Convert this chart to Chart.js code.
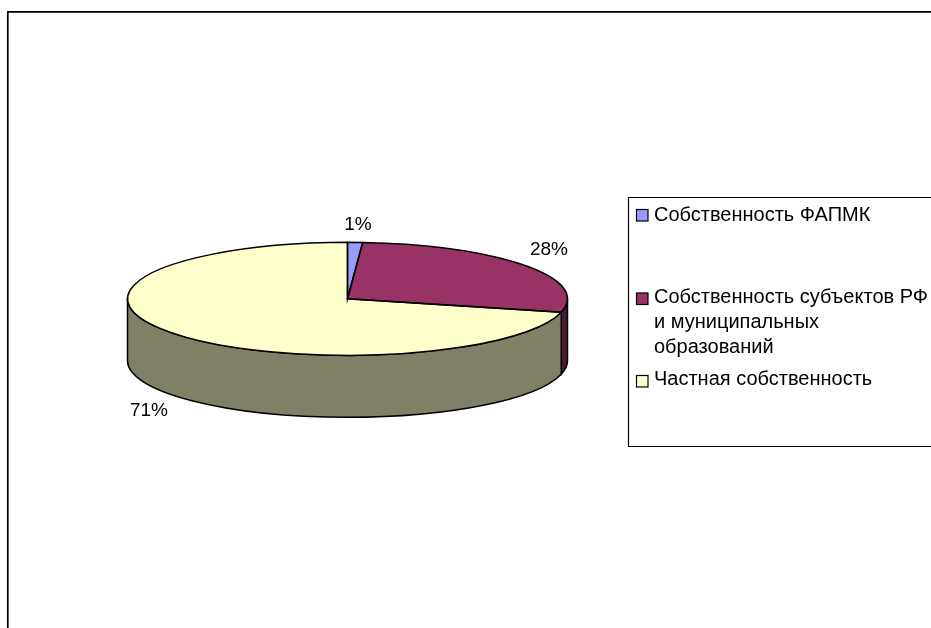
<!DOCTYPE html>
<html lang="ru">
<head>
<meta charset="utf-8">
<title>Собственность</title>
<script src="https://cdn.jsdelivr.net/npm/chart.js@4"></script>
<style>
  html, body { margin: 0; padding: 0; background: #fff; overflow: hidden; }
  canvas { display: block; }
</style>
</head>
<body>
<canvas id="pie3d" width="931" height="628"></canvas>
<script>
// data
const categories = ['Собственность ФАПМК', 'Собственность субъектов РФ', 'Частная собственность'];
const shares = [1.1, 27.7, 71.2];
const legendLines = [
  ['Собственность ФАПМК'],
  ['Собственность субъектов РФ', 'и муниципальных', 'образований'],
  ['Частная собственность'],
];

const topColors = ['#9999ff', '#993366', '#ffffcc'];
const sideColors = ['#4d4d80', '#4d1a33', '#808066'];

const LABEL_FONT = '19px "Liberation Sans", Arial, sans-serif';
const LEGEND_FONT = '20px "Liberation Sans", Arial, sans-serif';
const SQUASH = 56.5 / 220; // top of the pie is an ellipse
const DEPTH = 62;
const EDGE = 1.5;

// label spots, one per slice
const labelSpots = [[358, 224.5], [549, 250], [149, 410.5]];
// legend rows: swatch top and first text baseline
const legendRows = [[209.5, 221], [293, 303], [375.5, 385]];

function wedgePath(ctx, arc) {
  ctx.beginPath();
  ctx.moveTo(arc.x, arc.y);
  ctx.ellipse(arc.x, arc.y, arc.outerRadius, arc.outerRadius * SQUASH, 0, arc.startAngle, arc.endAngle);
  ctx.closePath();
}

// rim of the pie, only the front half can be seen
function drawSides(ctx, arcs) {
  arcs.forEach((arc, i) => {
    const from = Math.max(arc.startAngle, 0);
    const to = Math.min(arc.endAngle, Math.PI);
    if (to <= from) return;
    const rx = arc.outerRadius;
    const ry = rx * SQUASH;
    ctx.beginPath();
    ctx.ellipse(arc.x, arc.y, rx, ry, 0, from, to);
    ctx.ellipse(arc.x, arc.y + DEPTH, rx, ry, 0, to, from, true);
    ctx.closePath();
    ctx.fillStyle = sideColors[i];
    ctx.fill();
    ctx.lineWidth = EDGE;
    ctx.strokeStyle = '#000';
    ctx.stroke();
  });
}

const pie3d = {
  id: 'pie3d',
  beforeDatasetsDraw(chart) {
    const ctx = chart.ctx;
    const arcs = chart.getDatasetMeta(0).data;
    drawSides(ctx, arcs);
    // the library draws the slices, flattened
    ctx.save();
    ctx.translate(arcs[0].x, arcs[0].y);
    ctx.scale(1, SQUASH);
    ctx.translate(-arcs[0].x, -arcs[0].y);
  },
  afterDatasetsDraw(chart) {
    const ctx = chart.ctx;
    ctx.restore();
    const arcs = chart.getDatasetMeta(0).data;
    ctx.lineWidth = EDGE;
    ctx.strokeStyle = '#000';
    arcs.forEach((arc) => {
      wedgePath(ctx, arc);
      ctx.stroke();
    });

    ctx.font = LABEL_FONT;
    ctx.fillStyle = '#000';
    ctx.textAlign = 'center';
    ctx.textBaseline = 'middle';
    shares.forEach((v, i) => {
      ctx.fillText(Math.round(v) + '%', labelSpots[i][0], labelSpots[i][1]);
    });
  },
  afterDraw(chart) {
    const ctx = chart.ctx;
    ctx.save();
    // outer frame, runs off the right and the bottom
    ctx.strokeStyle = '#000';
    ctx.lineWidth = 1.7;
    ctx.beginPath();
    ctx.moveTo(7.8, 628);
    ctx.lineTo(7.8, 11.8);
    ctx.lineTo(931, 11.8);
    ctx.stroke();

    // legend box
    ctx.lineWidth = 1.2;
    ctx.beginPath();
    ctx.moveTo(931, 197.5);
    ctx.lineTo(628.5, 197.5);
    ctx.lineTo(628.5, 446.5);
    ctx.lineTo(931, 446.5);
    ctx.stroke();

    ctx.font = LEGEND_FONT;
    ctx.textAlign = 'left';
    ctx.textBaseline = 'alphabetic';
    legendLines.forEach((lines, i) => {
      ctx.fillStyle = topColors[i];
      ctx.fillRect(636.5, legendRows[i][0], 11.5, 11.5);
      ctx.strokeRect(636.5, legendRows[i][0], 11.5, 11.5);
      ctx.fillStyle = '#000';
      lines.forEach((line, n) => {
        ctx.fillText(line, 654, legendRows[i][1] + n * 25);
      });
    });
    ctx.restore();
  },
};

const chart = new Chart(document.getElementById('pie3d'), {
  type: 'pie',
  data: {
    labels: categories,
    datasets: [{
      data: shares,
      backgroundColor: topColors,
      borderWidth: 0,
    }],
  },
  options: {
    responsive: false,
    animation: false,
    layout: { padding: { left: 127.5, right: 363.5, top: 78.8, bottom: 109.2 } },
    plugins: {
      legend: { display: false },
      tooltip: { enabled: false },
    },
  },
  plugins: [pie3d],
});
</script>
</body>
</html>
